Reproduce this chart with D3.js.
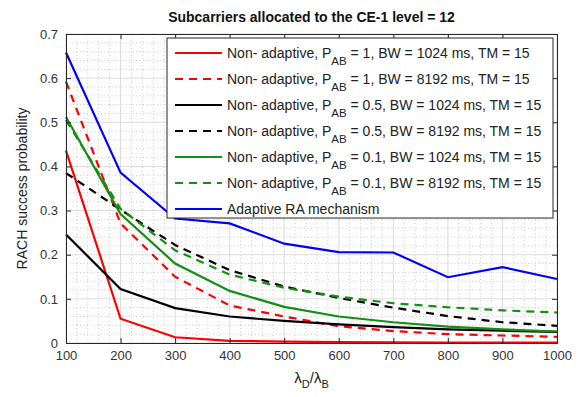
<!DOCTYPE html>
<html>
<head>
<meta charset="utf-8">
<script src="https://cdn.jsdelivr.net/npm/d3@7"></script>
<style>
  html, body { margin: 0; padding: 0; background: #fff; }
  svg { display: block; font-family: "Liberation Sans", Arial, sans-serif; }
</style>
</head>
<body>
<svg id="chart" width="587" height="397"></svg>
<script>
// λD/λB values on the x axis
const lambdaRatio = [100, 200, 300, 400, 500, 600, 700, 800, 900, 1000];

// RACH success probability for each configuration
const nonAdaptP1BW1024   = [0.436, 0.055, 0.013, 0.005, 0.003, 0.002, 0.0015, 0.001, 0.001, 0.001];
const nonAdaptP1BW8192   = [0.592, 0.271, 0.150, 0.085, 0.060, 0.038, 0.027, 0.020, 0.017, 0.014];
const nonAdaptP05BW1024  = [0.246, 0.122, 0.079, 0.060, 0.050, 0.042, 0.036, 0.031, 0.028, 0.025];
const nonAdaptP05BW8192  = [0.385, 0.302, 0.222, 0.165, 0.128, 0.102, 0.080, 0.061, 0.047, 0.039];
const nonAdaptP01BW1024  = [0.512, 0.292, 0.180, 0.118, 0.082, 0.060, 0.047, 0.037, 0.031, 0.026];
const nonAdaptP01BW8192  = [0.505, 0.304, 0.210, 0.155, 0.125, 0.105, 0.090, 0.081, 0.074, 0.069];
const adaptiveRA         = [0.658, 0.386, 0.282, 0.271, 0.225, 0.206, 0.205, 0.149, 0.172, 0.145];

const xTicks = [100, 200, 300, 400, 500, 600, 700, 800, 900, 1000];
const yTicks = [0, 0.1, 0.2, 0.3, 0.4, 0.5, 0.6, 0.7];

const titleText = "Subcarriers allocated to the CE-1 level = 12";
const yLabelText = "RACH success probability";

// legend entries: prefix, subscript, suffix
const series = [
  { values: nonAdaptP1BW1024,  color: "#ff0000", dashed: false, pre: "Non- adaptive, P", sub: "AB", post: " = 1, BW = 1024 ms, TM = 15" },
  { values: nonAdaptP1BW8192,  color: "#ff0000", dashed: true,  pre: "Non- adaptive, P", sub: "AB", post: " = 1, BW = 8192 ms, TM = 15" },
  { values: nonAdaptP05BW1024, color: "#000000", dashed: false, pre: "Non- adaptive, P", sub: "AB", post: " = 0.5, BW = 1024 ms, TM = 15" },
  { values: nonAdaptP05BW8192, color: "#000000", dashed: true,  pre: "Non- adaptive, P", sub: "AB", post: " = 0.5, BW = 8192 ms, TM = 15" },
  { values: nonAdaptP01BW1024, color: "#138f13", dashed: false, pre: "Non- adaptive, P", sub: "AB", post: " = 0.1, BW = 1024 ms, TM = 15" },
  { values: nonAdaptP01BW8192, color: "#138f13", dashed: true,  pre: "Non- adaptive, P", sub: "AB", post: " = 0.1, BW = 8192 ms, TM = 15" },
  { values: adaptiveRA,        color: "#0000ff", dashed: false, pre: "Adaptive RA mechanism", sub: "", post: "" }
];

const svg = d3.select("#chart");
const plot = { left: 66, right: 557, top: 34, bottom: 343 };
const axisColor = "#262626";

const x = d3.scaleLinear().domain([100, 1000]).range([plot.left, plot.right]);
const y = d3.scaleLinear().domain([0, 0.7]).range([plot.bottom, plot.top]);

const grid = svg.append("g");
// minor grid (dotted)
const xMinor = d3.range(100, 1001, 20).filter(v => v % 100 !== 0);
const yMinor = d3.range(0, 0.7001, 0.02).filter(v => Math.abs(v * 10 - Math.round(v * 10)) > 1e-6);
grid.selectAll(".xm").data(xMinor).join("line")
  .attr("x1", d => x(d)).attr("x2", d => x(d))
  .attr("y1", plot.top).attr("y2", plot.bottom)
  .attr("stroke", "#bdbdbd").attr("stroke-width", 0.8).attr("stroke-dasharray", "1,2.5");
grid.selectAll(".ym").data(yMinor).join("line")
  .attr("x1", plot.left).attr("x2", plot.right)
  .attr("y1", d => y(d)).attr("y2", d => y(d))
  .attr("stroke", "#bdbdbd").attr("stroke-width", 0.8).attr("stroke-dasharray", "1,2.5");
// major grid
grid.selectAll(".xM").data(xTicks).join("line")
  .attr("x1", d => x(d)).attr("x2", d => x(d))
  .attr("y1", plot.top).attr("y2", plot.bottom)
  .attr("stroke", "#dcdcdc").attr("stroke-width", 1);
grid.selectAll(".yM").data(yTicks).join("line")
  .attr("x1", plot.left).attr("x2", plot.right)
  .attr("y1", d => y(d)).attr("y2", d => y(d))
  .attr("stroke", "#dcdcdc").attr("stroke-width", 1);

// data lines
const line = d3.line().x((d, i) => x(lambdaRatio[i])).y(d => y(d));
svg.append("g").selectAll("path").data(series).join("path")
  .attr("d", d => line(d.values))
  .attr("fill", "none")
  .attr("stroke", d => d.color)
  .attr("stroke-width", 2.2)
  .attr("stroke-dasharray", d => d.dashed ? "8,6" : null);

// axes (ticks inward, box on)
const tickLen = 5;
const fmtY = d => d === 0 ? "0" : d3.format(".1f")(d);
const xAxisB = d3.axisBottom(x).tickValues(xTicks).tickSize(-tickLen).tickPadding(8).tickFormat(d3.format("d"));
const xAxisT = d3.axisTop(x).tickValues(xTicks).tickSize(-tickLen).tickFormat("");
const yAxisL = d3.axisLeft(y).tickValues(yTicks).tickSize(-tickLen).tickPadding(8).tickFormat(fmtY);
const yAxisR = d3.axisRight(y).tickValues(yTicks).tickSize(-tickLen).tickFormat("");

function styleAxis(g) {
  g.select(".domain").attr("stroke", axisColor).attr("stroke-width", 1);
  g.selectAll(".tick line").attr("stroke", axisColor);
  g.selectAll(".tick text").attr("fill", "#333").attr("font-size", 13)
    .attr("font-family", "'Liberation Sans', Arial, sans-serif");
}
svg.append("g").attr("transform", `translate(0,${plot.bottom})`).call(xAxisB).call(styleAxis);
svg.append("g").attr("transform", `translate(0,${plot.top})`).call(xAxisT).call(styleAxis);
svg.append("g").attr("transform", `translate(${plot.left},0)`).call(yAxisL).call(styleAxis);
svg.append("g").attr("transform", `translate(${plot.right},0)`).call(yAxisR).call(styleAxis);

// legend
const leg = { x: 167, y: 38, w: 386, h: 180, row: 26 };
const lg = svg.append("g");
lg.append("rect").attr("x", leg.x).attr("y", leg.y).attr("width", leg.w).attr("height", leg.h)
  .attr("fill", "#fff").attr("stroke", axisColor).attr("stroke-width", 1);
const rows = lg.selectAll(".row").data(series).join("g")
  .attr("transform", (d, i) => `translate(${leg.x},${leg.y + 15 + i * leg.row})`);
rows.append("line").attr("x1", 8).attr("x2", 55).attr("y1", 0).attr("y2", 0)
  .attr("stroke", d => d.color).attr("stroke-width", 2.2)
  .attr("stroke-dasharray", d => d.dashed ? "8,6" : null);
const txt = rows.append("text").attr("x", 60).attr("y", 5)
  .attr("font-size", 14).attr("fill", "#222");
txt.append("tspan").text(d => d.pre);
txt.append("tspan").attr("dy", 7).attr("font-size", 11.5).text(d => d.sub);
txt.append("tspan").attr("dy", d => d.sub ? -7 : 0).text(d => d.post);

// title
svg.append("text").attr("x", (plot.left + plot.right) / 2).attr("y", 22)
  .attr("text-anchor", "middle").attr("font-size", 14).attr("font-weight", "bold")
  .attr("fill", "#111").text(titleText);

// y label
svg.append("text")
  .attr("transform", `translate(27,${(plot.top + plot.bottom) / 2}) rotate(-90)`)
  .attr("text-anchor", "middle").attr("font-size", 14).attr("fill", "#222").text(yLabelText);

// x label: λD/λB
const xl = svg.append("text").attr("x", (plot.left + plot.right) / 2).attr("y", 383)
  .attr("text-anchor", "middle").attr("font-size", 15).attr("fill", "#222");
xl.append("tspan").text("λ");
xl.append("tspan").attr("dy", 5).attr("font-size", 11).text("D");
xl.append("tspan").attr("dy", -5).text("/λ");
xl.append("tspan").attr("dy", 5).attr("font-size", 11).text("B");
</script>
</body>
</html>
